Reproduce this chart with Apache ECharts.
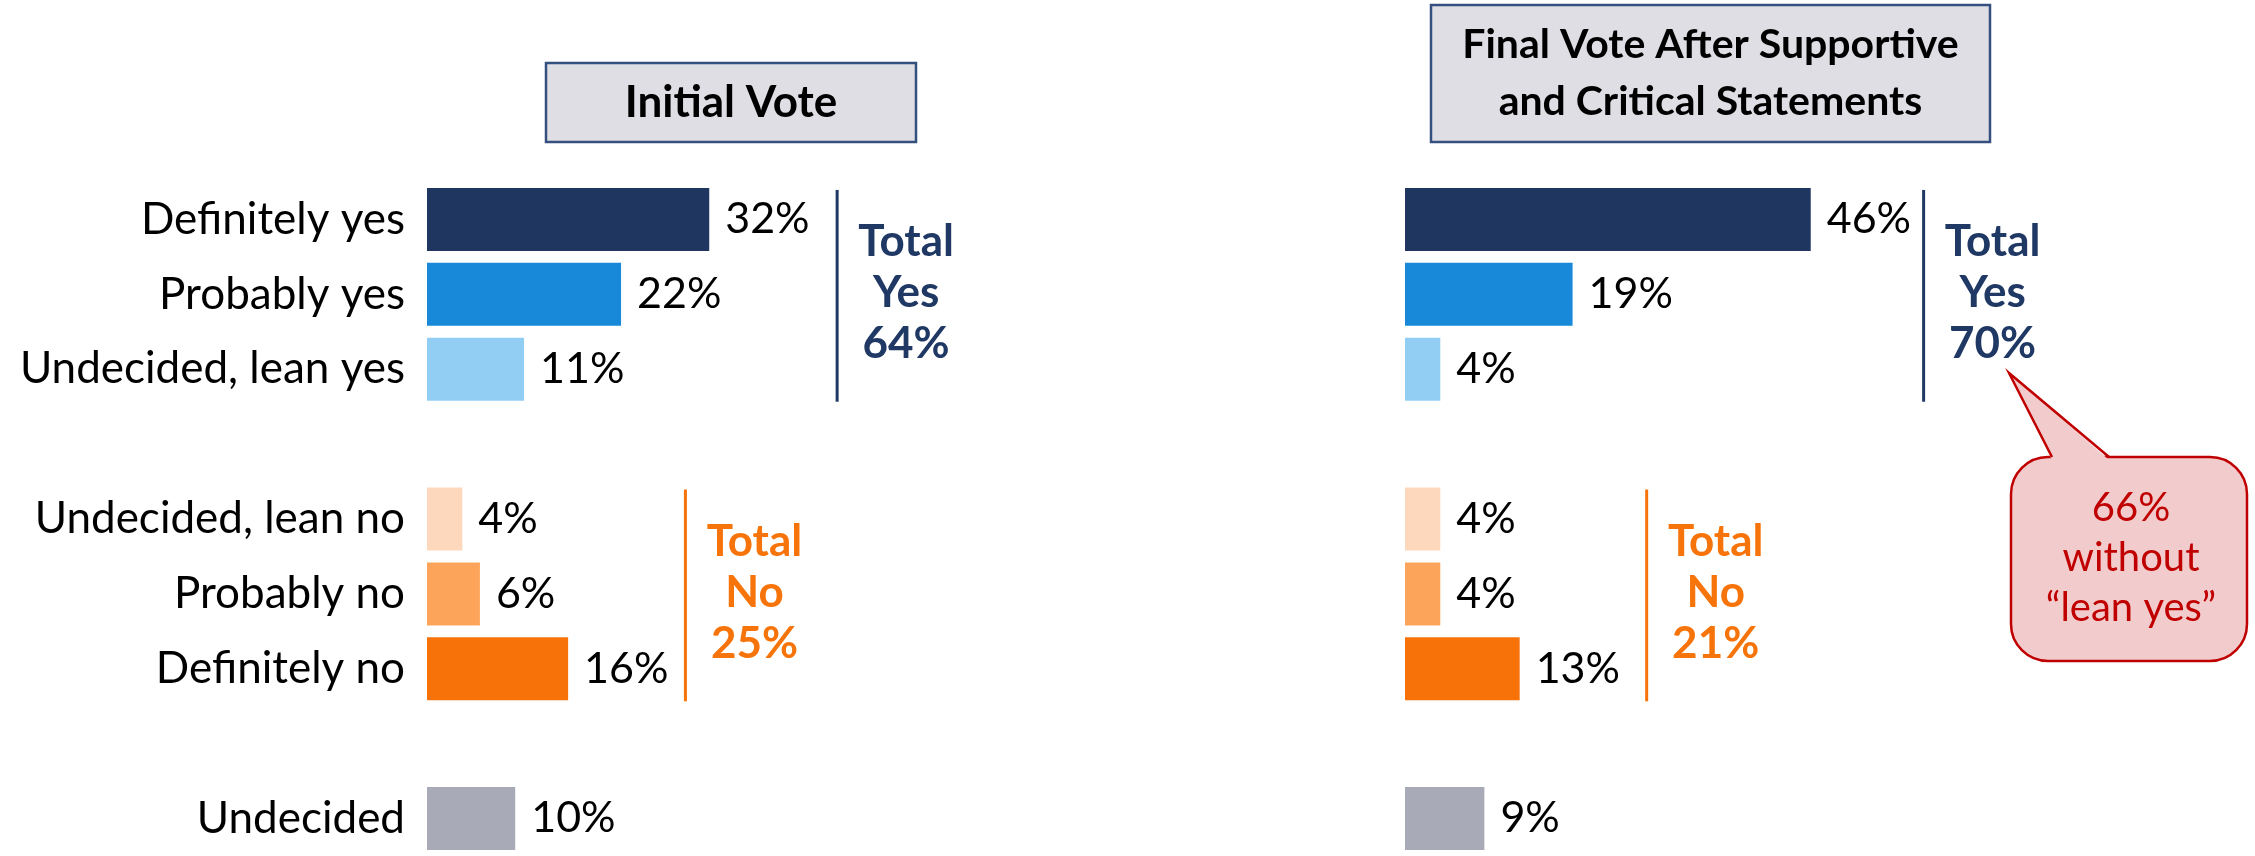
<!DOCTYPE html>
<html>
<head>
<meta charset="utf-8">
<title>Initial vs final vote</title>
<script src="https://cdn.jsdelivr.net/npm/echarts@6/dist/echarts.min.js"></script>
<style>
  html, body { margin: 0; padding: 0; background: #fff; }
  #chart { width: 2255px; height: 856px; }
</style>
</head>
<body>
<div id="chart"></div>
<script>
// --- data ---
const categories = ["Definitely yes", "Probably yes", "Undecided, lean yes", "", "Undecided, lean no", "Probably no", "Definitely no", " ", "Undecided"];
const initialVote = [32, 22, 11, null, 4, 6, 16, null, 10];
const finalVote = [46, 19, 4, null, 4, 4, 13, null, 9];
const groupNames = ["Yes", "No"];
const initialTotals = [64, 25];
const finalTotals = [70, 21];
const panelTitles = ["Initial Vote", "Final Vote After Supportive\nand Critical Statements"];
const calloutText = ["66%", "without", "\u201clean yes\u201d"];

// --- styles / layout ---
const FONT = "Lato, 'Liberation Sans', sans-serif";
const NAVY = "#1f3864";
const ORANGE = "#f7740a";
const RED = "#c00000";
const barColors = ["#1e3660", "#1888d8", "#92cef4", "#fff", "#fdd8bc", "#fca55a", "#f77208", "#fff", "#a9aab8"];
const BAR_W = 63;
const PX_PER_PCT = 8.82;
const AXIS_MAX = 50;
const gridLeft = [427, 1405];
// where the bracket lines sit, in axis units (x) and category rows (from..to)
const brackets = [
  [[46.5, 0, 2], [29.3, 4, 6]],
  [[58.8, 0, 2], [27.4, 4, 6]]
];

const chart = echarts.init(document.getElementById("chart"));

const renderBracket = (params, api) => {
  const top = api.coord([api.value(0), api.value(1)]);
  const bottom = api.coord([api.value(0), api.value(2)]);
  const kind = api.value(4);
  const color = kind === 0 ? NAVY : ORANGE;
  const y1 = top[1] - BAR_W / 2 + 2;
  const y2 = bottom[1] + BAR_W / 2 + 1;
  return {
    type: "group",
    children: [
      { type: "line", shape: { x1: top[0], y1: y1, x2: top[0], y2: y2 }, style: { stroke: color, lineWidth: 3 } },
      {
        type: "text",
        x: top[0] + 69,
        y: (y1 + y2) / 2 - 3,
        style: {
          text: "Total\n" + groupNames[kind] + "\n" + api.value(3) + "%",
          fill: color, fontFamily: FONT, fontWeight: "bold", fontSize: 44,
          lineHeight: 51, align: "center", verticalAlign: "middle"
        }
      }
    ]
  };
};

const barSeries = (values, idx) => ({
  type: "bar",
  xAxisIndex: idx,
  yAxisIndex: idx,
  data: values,
  barWidth: BAR_W,
  itemStyle: { color: (p) => barColors[p.dataIndex] },
  label: {
    show: true, position: "right", distance: 16,
    formatter: "{c}%", color: "#000", fontFamily: FONT, fontSize: 43
  },
  animation: false
});

const bracketSeries = (totals, idx) => ({
  type: "custom",
  xAxisIndex: idx,
  yAxisIndex: idx,
  clip: false,
  encode: { x: 0, y: 1 },
  data: brackets[idx].map((b, i) => [b[0], b[1], b[2], totals[i], i]),
  renderItem: renderBracket,
  animation: false,
  silent: true
});

const titleBox = (x, y, w, h, text, size, lh) => ({
  type: "group",
  children: [
    { type: "rect", shape: { x: x, y: y, width: w, height: h },
      style: { fill: "#dfdee5", stroke: "#34507e", lineWidth: 2.5 } },
    { type: "text", x: x + w / 2, y: y + h / 2,
      style: { text: text, fill: "#000", fontFamily: FONT, fontWeight: "bold", fontSize: size,
        lineHeight: lh, align: "center", verticalAlign: "middle" } }
  ]
});

// speech bubble pointing at the final "Total Yes"
const bubble = { x: 2011, y: 457, w: 236, h: 204, r: 37, tip: [2009, 373], base: [2052, 2109] };
const calloutGraphic = [
  { type: "rect", shape: { x: bubble.x, y: bubble.y, width: bubble.w, height: bubble.h, r: bubble.r },
    style: { fill: "#f2cccc", stroke: RED, lineWidth: 2.5 } },
  { type: "polygon",
    shape: { points: [[bubble.base[0], bubble.y + 3], bubble.tip, [bubble.base[1], bubble.y + 3]] },
    style: { fill: "#f2cccc" } },
  { type: "polyline",
    shape: { points: [[bubble.base[0], bubble.y], bubble.tip, [bubble.base[1], bubble.y]] },
    style: { stroke: RED, lineWidth: 2.5, fill: null } },
  { type: "text", x: bubble.x + bubble.w / 2 + 2, y: bubble.y + bubble.h / 2 - 1,
    style: { text: calloutText.join("\n"), fill: RED, fontFamily: FONT, fontSize: 40,
      lineHeight: 50, align: "center", verticalAlign: "middle" } }
];

const option = {
  backgroundColor: "#fff",
  animation: false,
  grid: gridLeft.map((l) => ({ left: l, top: 182, width: AXIS_MAX * PX_PER_PCT, height: 682 })),
  xAxis: [0, 1].map((i) => ({
    type: "value", gridIndex: i, min: 0, max: AXIS_MAX, show: false
  })),
  yAxis: [0, 1].map((i) => ({
    type: "category", gridIndex: i, inverse: true, data: categories,
    axisLine: { show: false }, axisTick: { show: false }, splitLine: { show: false },
    axisLabel: { show: i === 0, margin: 22, color: "#000", fontFamily: FONT, fontSize: 44 }
  })),
  series: [
    barSeries(initialVote, 0),
    barSeries(finalVote, 1),
    bracketSeries(initialTotals, 0),
    bracketSeries(finalTotals, 1)
  ],
  graphic: [
    titleBox(546, 63, 370, 79, panelTitles[0], 44, 50),
    titleBox(1431, 5, 559, 137, panelTitles[1], 41, 57)
  ].concat(calloutGraphic)
};

chart.setOption(option);
</script>
</body>
</html>
